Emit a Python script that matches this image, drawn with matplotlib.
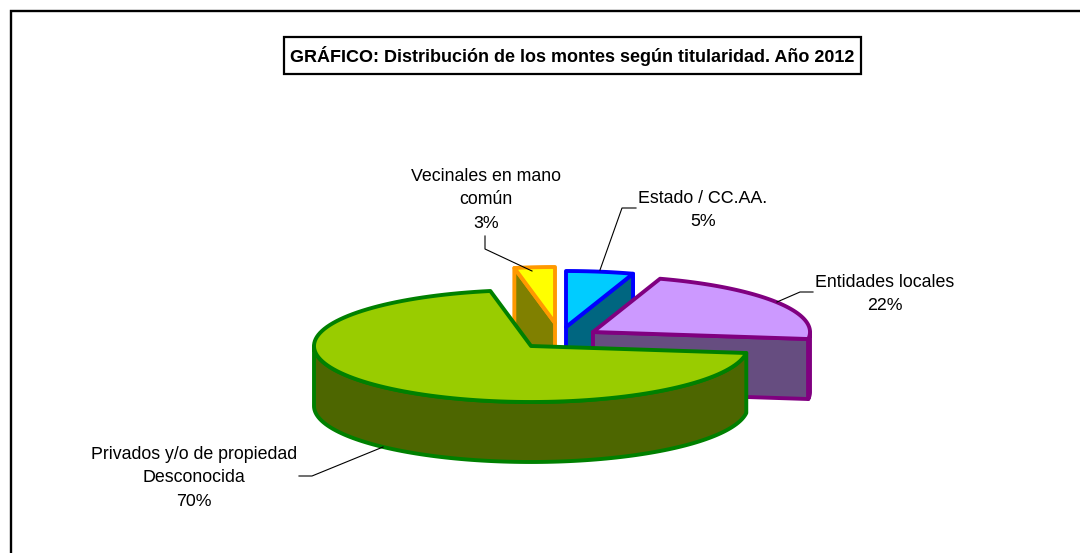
import numpy as np
import matplotlib
matplotlib.use('Agg')
import matplotlib.pyplot as plt
from matplotlib.patches import Polygon

plt.rcParams['font.family'] = ['Liberation Sans', 'DejaVu Sans']
plt.rcParams['text.hinting'] = 'no_autohint'

title = 'GRÁFICO: Distribución de los montes según titularidad. Año 2012'
labels = ['Estado / CC.AA.', 'Entidades locales',
          'Privados y/o de propiedad\nDesconocida', 'Vecinales en mano\ncomún']
values = [5, 22, 70, 3]

# pie look, in pixels
top_colors = ['#00CCFF', '#CC99FF', '#99CC00', '#FFFF00']
side_colors = ['#006680', '#664D80', '#4D6600', '#808000']
edge_colors = ['#0000FF', '#800080', '#008000', '#FF9900']
apex = [(566, 327), (593, 332), (531, 346), (555, 323)]
label_pos = [(703, 210), (885, 294), (194, 478), (486, 200)]
leaders = [[(636, 208), (622, 208), (600, 270)],
           [(813, 292), (800, 292), (777, 302)],
           [(299, 476), (312, 476), (383, 447)],
           [(485, 236), (485, 249), (532, 271)]]
rx, ry, depth = 217, 56, 60
lw = 2.8

fig = plt.figure(figsize=(10.8, 5.53), dpi=100)
ax = fig.add_axes([0, 0, 1, 1])
ax.set_xlim(0, 1080)
ax.set_ylim(553, 0)
ax.axis('off')

# outer frame, only top and left show
ax.plot([1080, 11, 11], [11, 11, 553], color='black', lw=1.7, solid_joinstyle='miter')


def rim(cx, cy, a0, a1):
    t = np.radians(np.linspace(a0, a1, 120))
    return np.column_stack([cx + rx * np.cos(t), cy - ry * np.sin(t)])


def face(pts, fc, ec, z):
    ax.add_patch(Polygon(pts, closed=True, fc=fc, ec=ec, lw=lw, joinstyle='round', zorder=z))


# slices run clockwise from 12 o'clock
shares = np.array(values) / sum(values) * 360
ends = 90 - np.cumsum(shares)
starts = ends + shares
draw_order = [3, 0, 1, 2]

for z, i in enumerate(draw_order):
    cx, cy = apex[i]
    a0, a1 = starts[i], ends[i]
    arc = rim(cx, cy, a0, a1)
    base = 2 + z * 2

    # cut faces seen from the front
    if i == 3:
        p = arc[0]
    elif i in (0, 1):
        p = arc[-1]
    else:
        p = None
    if p is not None:
        face([(cx, cy), p, (p[0], p[1] + depth), (cx, cy + depth)], side_colors[i], edge_colors[i], base)

    # outer wall, front part only
    lo = max(a1, -180)
    hi = min(a0, 0)
    if lo < hi:
        wall = rim(cx, cy, hi, lo)
        low = wall + [0, depth]
        face(np.vstack([wall, low[::-1]]), side_colors[i], edge_colors[i], base)

    # top of the slice
    face(np.vstack([[(cx, cy)], arc]), top_colors[i], edge_colors[i], base + 1)

for i, lab in enumerate(labels):
    ax.text(label_pos[i][0], label_pos[i][1], f'{lab}\n{values[i]}%', ha='center', va='center',
            fontsize=12.8, linespacing=1.47, color='black', zorder=20)
    xs, ys = zip(*leaders[i])
    ax.plot(xs, ys, color='black', lw=0.8, zorder=19)

ax.text(572, 56, title, ha='center', va='center', fontsize=12.95, fontweight='bold', zorder=20)
ax.add_patch(Polygon([(284, 37), (861, 37), (861, 74), (284, 74)], closed=True,
                     fc='none', ec='black', lw=1.6, zorder=19))

fig.savefig('out.png', dpi=100)
